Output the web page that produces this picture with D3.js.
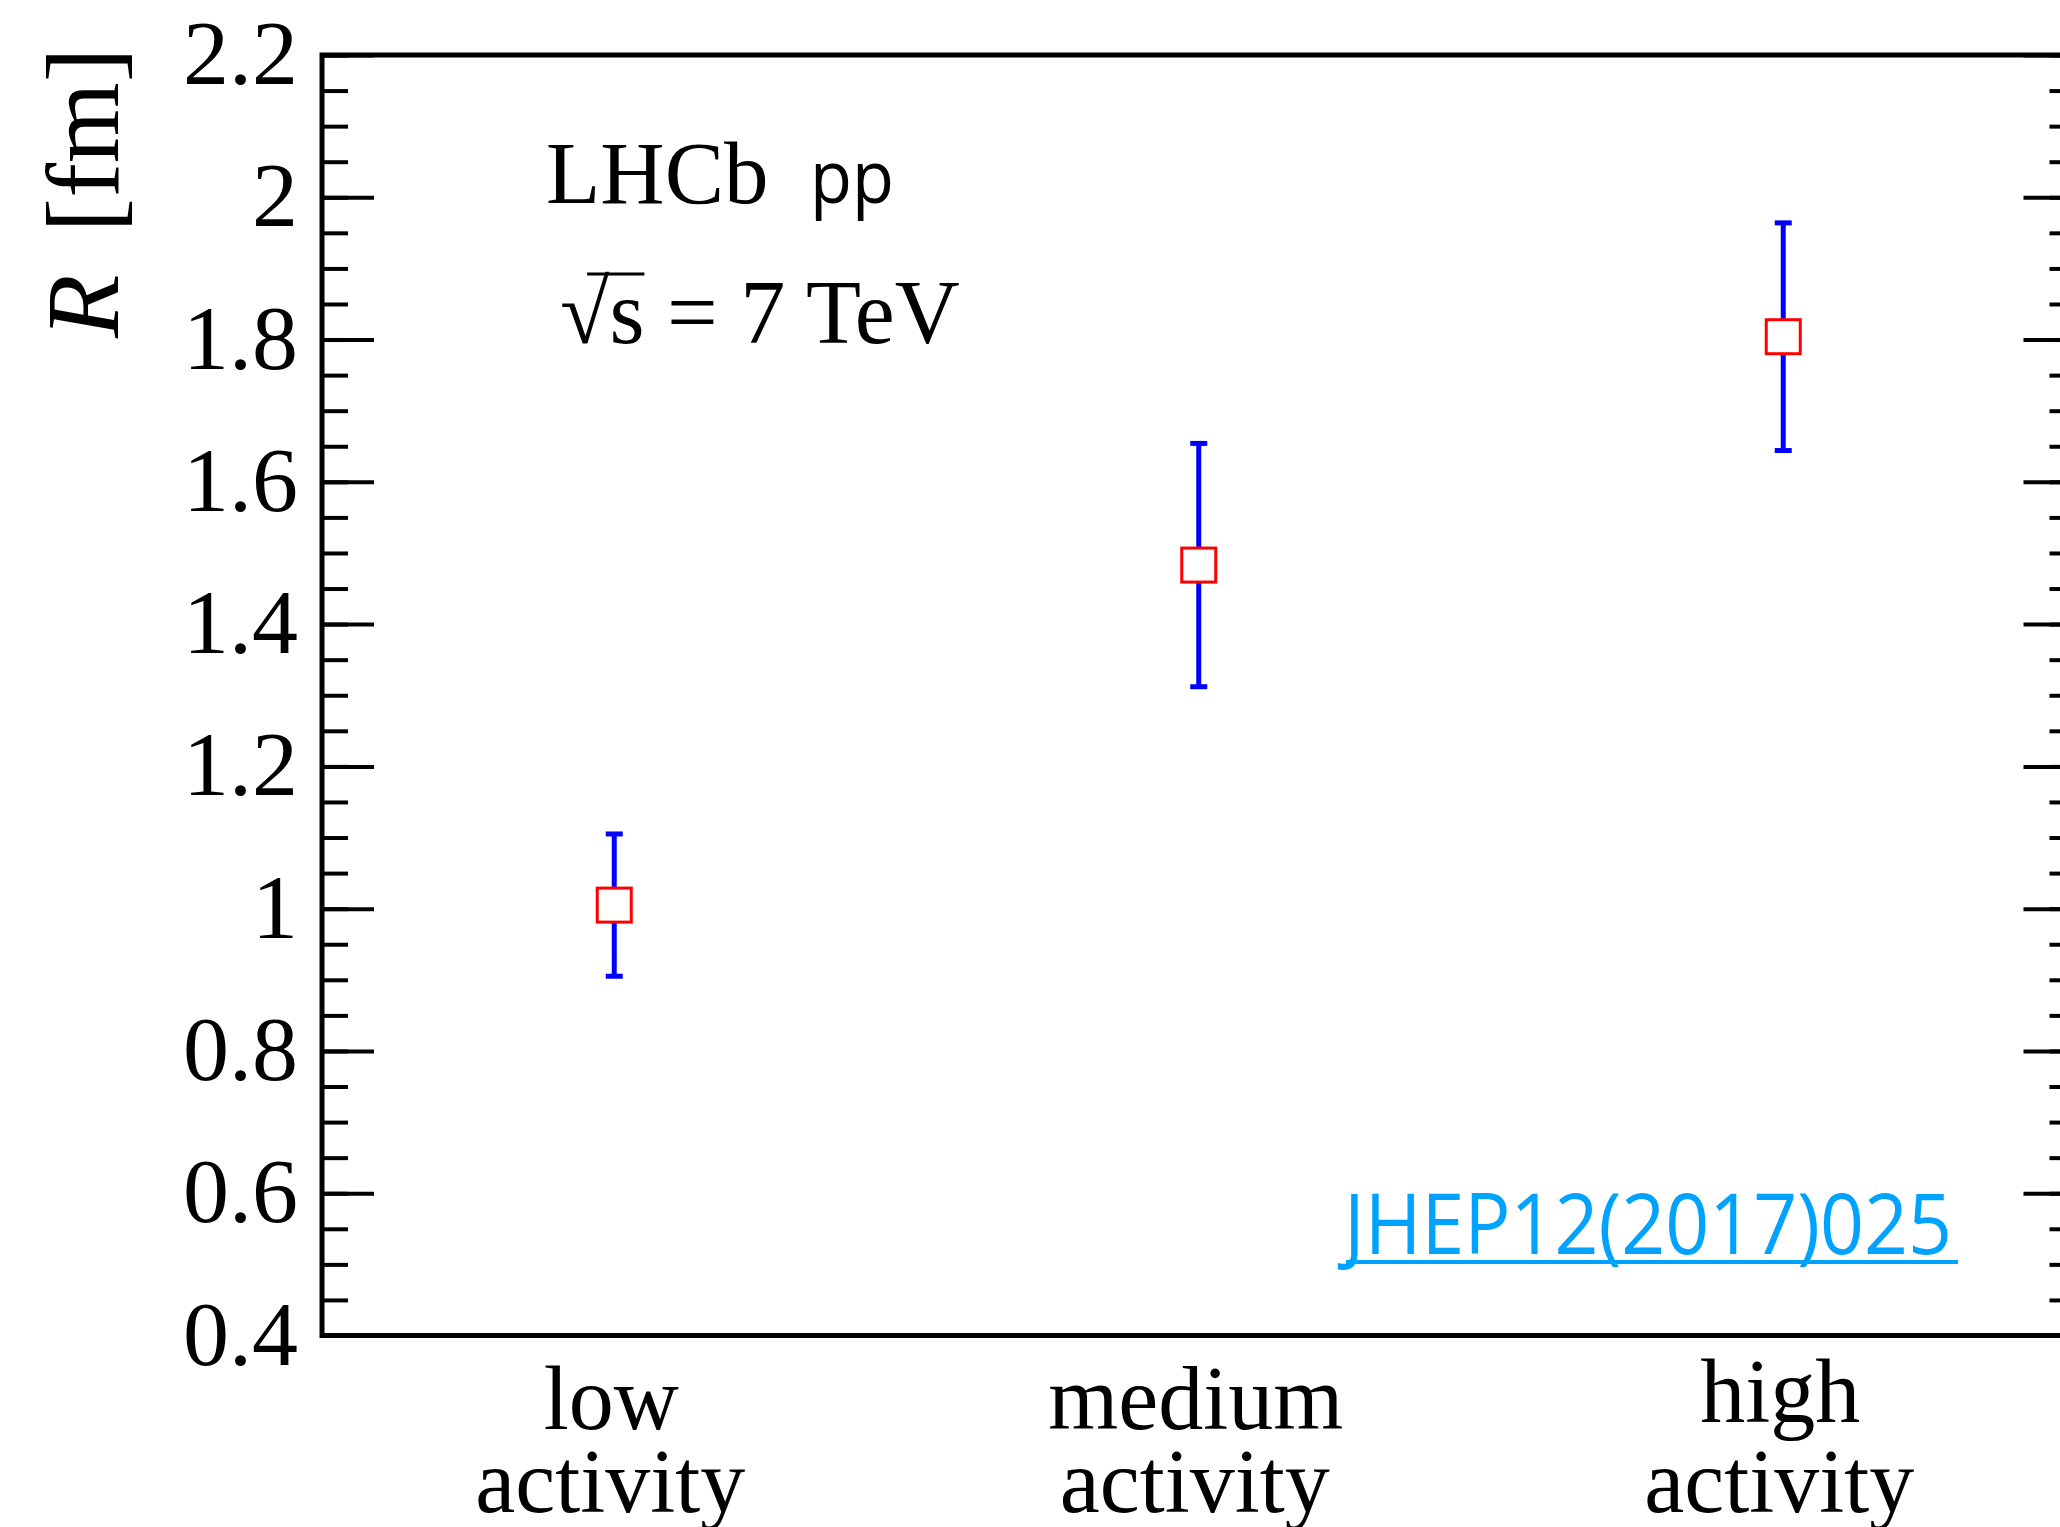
<!DOCTYPE html>
<html>
<head>
<meta charset="utf-8">
<script src="https://cdn.jsdelivr.net/npm/d3@7"></script>
<style>
  body { margin: 0; background: #fff; }
  svg { display: block; }
</style>
</head>
<body>
<div id="chart"></div>
<script>
// data
const categories = ["low", "medium", "high"];
const radius = [1.005, 1.483, 1.804];      // R [fm]
const radiusErr = [0.100, 0.171, 0.160];
const yMajorTicks = [0.4, 0.6, 0.8, 1.0, 1.2, 1.4, 1.6, 1.8, 2.0, 2.2];
const yMinorTicks = d3.range(0.4, 2.2001, 0.05).map(v => +v.toFixed(2));

const w = 2060;
const h = 1527;
const plot = { left: 322, right: 2075.5, top: 55, bottom: 1335.5 };
const serif = "'Liberation Serif', 'Times New Roman', serif";
const sans = "'Open Sans', 'DejaVu Sans', sans-serif";

const svg = d3.select("#chart").append("svg")
    .attr("width", w)
    .attr("height", h);

const x = d3.scaleBand()
    .domain(categories)
    .range([plot.left, plot.right]);

const y = d3.scaleLinear()
    .domain([0.4, 2.2])
    .range([plot.bottom, plot.top]);

const fmt = d3.format("~g");

// minor ticks, both sides
svg.append("g")
    .attr("transform", `translate(${plot.left},0)`)
    .call(d3.axisLeft(y).tickValues(yMinorTicks).tickSize(-26).tickFormat(""))
    .call(g => g.select(".domain").remove());
svg.append("g")
    .attr("transform", `translate(${plot.right},0)`)
    .call(d3.axisRight(y).tickValues(yMinorTicks).tickSize(-26).tickFormat(""))
    .call(g => g.select(".domain").remove());

// major ticks + labels
const yAxis = svg.append("g")
    .attr("transform", `translate(${plot.left},0)`)
    .call(d3.axisLeft(y).tickValues(yMajorTicks).tickSize(-52).tickPadding(24).tickFormat(fmt))
    .call(g => g.select(".domain").remove());
yAxis.selectAll("text")
    .attr("font-family", serif)
    .attr("font-size", 92)
    .attr("fill", "#000")
    .attr("dy", "0.31em");
svg.append("g")
    .attr("transform", `translate(${plot.right},0)`)
    .call(d3.axisRight(y).tickValues(yMajorTicks).tickSize(-52).tickFormat(""))
    .call(g => g.select(".domain").remove());

svg.selectAll(".tick line")
    .attr("stroke", "#000")
    .attr("stroke-width", 4);

// frame
svg.append("rect")
    .attr("x", plot.left)
    .attr("y", plot.top)
    .attr("width", plot.right - plot.left)
    .attr("height", plot.bottom - plot.top)
    .attr("fill", "none")
    .attr("stroke", "#000")
    .attr("stroke-width", 5);

// category labels (two lines)
const cat = svg.append("g").selectAll("text")
    .data(categories)
    .enter()
    .append("text")
    .attr("font-family", serif)
    .attr("font-size", 90)
    .attr("text-anchor", "middle")
    .attr("fill", "#000");
cat.append("tspan")
    .attr("x", d => x(d) + x.bandwidth() / 2 - 3)
    .attr("y", d => d === "high" ? 1422 : 1429)
    .text(d => d);
cat.append("tspan")
    .attr("x", d => x(d) + x.bandwidth() / 2 - 4)
    .attr("y", 1512)
    .text("activity");

// points with error bars
const pts = categories.map((c, i) => ({ c: c, v: radius[i], e: radiusErr[i] }));
const cx = d => x(d.c) + x.bandwidth() / 2;
const box = 34;
const cap = 17;

const pg = svg.append("g");
pg.selectAll(".err")
    .data(pts)
    .enter()
    .append("line")
    .attr("class", "err")
    .attr("x1", cx).attr("x2", cx)
    .attr("y1", d => y(d.v + d.e))
    .attr("y2", d => y(d.v - d.e))
    .attr("stroke", "#0000ff")
    .attr("stroke-width", 5);
["top", "bot"].forEach(side => {
    pg.selectAll(".cap-" + side)
        .data(pts)
        .enter()
        .append("line")
        .attr("x1", d => cx(d) - cap / 2)
        .attr("x2", d => cx(d) + cap / 2)
        .attr("y1", d => y(side === "top" ? d.v + d.e : d.v - d.e))
        .attr("y2", d => y(side === "top" ? d.v + d.e : d.v - d.e))
        .attr("stroke", "#0000ff")
        .attr("stroke-width", 5);
});
pg.selectAll(".marker")
    .data(pts)
    .enter()
    .append("rect")
    .attr("x", d => cx(d) - box / 2)
    .attr("y", d => y(d.v) - box / 2)
    .attr("width", box)
    .attr("height", box)
    .attr("fill", "#fff")
    .attr("stroke", "#ff0000")
    .attr("stroke-width", 3);

// y title
svg.append("text")
    .attr("transform", "translate(118,338) rotate(-90)")
    .attr("font-family", serif)
    .attr("font-size", 104)
    .attr("fill", "#000")
    .call(t => {
        t.append("tspan").attr("font-style", "italic").text("R");
        t.append("tspan").attr("dx", 16).text(" [fm]");
    });

// annotations
svg.append("text")
    .attr("x", 546).attr("y", 203)
    .attr("font-family", serif).attr("font-size", 89)
    .text("LHCb");
svg.append("text")
    .attr("x", 810).attr("y", 203)
    .attr("font-family", sans).attr("font-size", 74)
    .attr("textLength", 84).attr("lengthAdjust", "spacingAndGlyphs")
    .text("pp");

const sq = svg.append("text")
    .attr("x", 560).attr("y", 343)
    .attr("font-family", serif).attr("font-size", 90)
    .text("√s = 7 TeV");
const e0 = sq.node().getExtentOfChar(0);
const e1 = sq.node().getExtentOfChar(1);
svg.append("line")
    .attr("x1", e0.x + e0.width * 0.55).attr("x2", e1.x + e1.width)
    .attr("y1", 274).attr("y2", 274)
    .attr("stroke", "#000").attr("stroke-width", 3);

svg.append("text")
    .attr("x", 1344).attr("y", 1254)
    .attr("font-family", sans).attr("font-size", 84)
    .attr("fill", "#00a2ff")
    .attr("textLength", 608).attr("lengthAdjust", "spacingAndGlyphs")
    .text("JHEP12(2017)025");
svg.append("line")
    .attr("x1", 1346).attr("x2", 1958)
    .attr("y1", 1262).attr("y2", 1262)
    .attr("stroke", "#00a2ff").attr("stroke-width", 4);
</script>
</body>
</html>
